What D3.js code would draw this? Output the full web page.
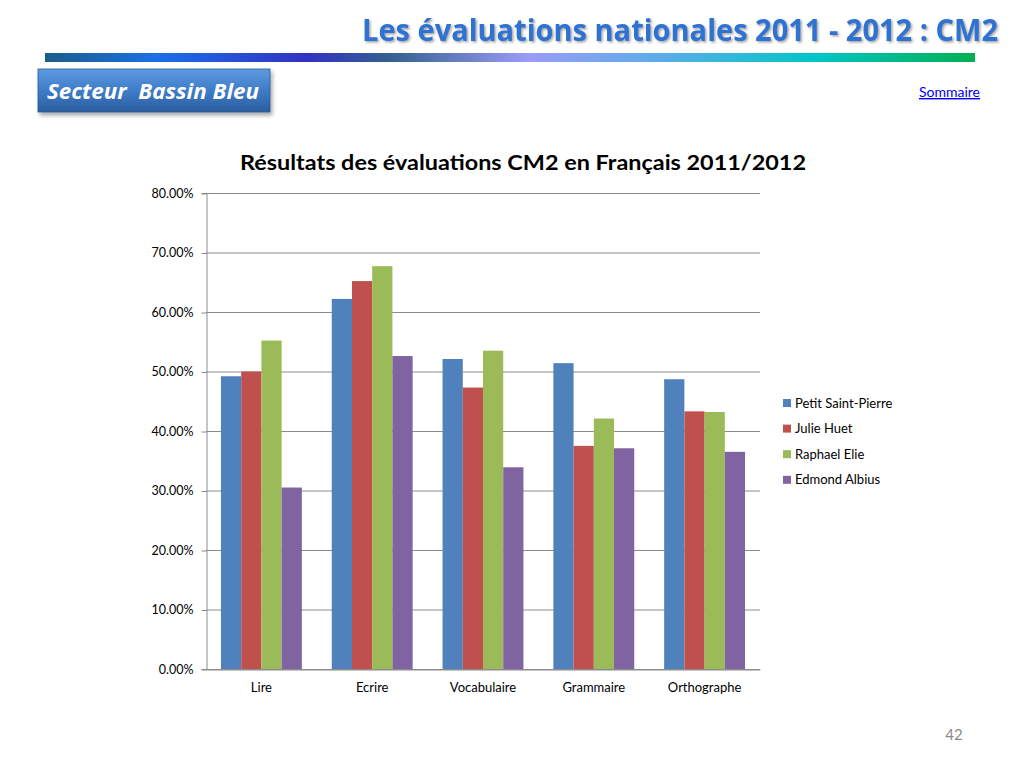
<!DOCTYPE html>
<html>
<head>
<meta charset="utf-8">
<script src="https://cdn.jsdelivr.net/npm/d3@7"></script>
<style>
  body { margin: 0; background: #fff; }
  svg { display: block; }
</style>
</head>
<body>
<div id="chart"></div>
<script>
// chart values
const categories = ["Lire", "Ecrire", "Vocabulaire", "Grammaire", "Orthographe"];
const seriesNames = ["Petit Saint-Pierre", "Julie Huet", "Raphael Elie", "Edmond Albius"];
const petitSaintPierre = [49.2, 62.2, 52.1, 51.4, 48.7];
const julieHuet = [50.0, 65.2, 47.3, 37.5, 43.3];
const raphaelElie = [55.2, 67.7, 53.5, 42.1, 43.2];
const edmondAlbius = [30.5, 52.6, 33.9, 37.1, 36.5];
const yTicks = [0, 10, 20, 30, 40, 50, 60, 70, 80];

const seriesValues = [petitSaintPierre, julieHuet, raphaelElie, edmondAlbius];
const colors = ["#4F81BD", "#C0504D", "#9BBB59", "#8064A2"];

const W = 1024, H = 768;
const font = "Lato, 'Open Sans', sans-serif";

const svg = d3.select("#chart").append("svg")
    .attr("width", W)
    .attr("height", H);

const defs = svg.append("defs");

// header gradient bar
const barGrad = defs.append("linearGradient").attr("id", "headerBar");
[
  [0, "#1b5e8a"], [0.12, "#1a6fe6"], [0.28, "#3232c4"], [0.37, "#34608e"],
  [0.52, "#9a9cfa"], [0.66, "#5cacea"], [0.83, "#00c6c6"], [1, "#00b050"]
].forEach(([o, c]) => barGrad.append("stop").attr("offset", o).attr("stop-color", c));

const boxGrad = defs.append("linearGradient").attr("id", "boxGrad")
    .attr("x1", 0).attr("y1", 0).attr("x2", 0).attr("y2", 1);
boxGrad.append("stop").attr("offset", 0).attr("stop-color", "#5d9be0");
boxGrad.append("stop").attr("offset", 0.5).attr("stop-color", "#3f7cc8");
boxGrad.append("stop").attr("offset", 1).attr("stop-color", "#2b5d9e");

const shadow = defs.append("filter").attr("id", "shadow")
    .attr("x", "-10%").attr("y", "-10%").attr("width", "130%").attr("height", "150%");
shadow.append("feDropShadow").attr("dx", 2).attr("dy", 3).attr("stdDeviation", 2)
    .attr("flood-color", "#000").attr("flood-opacity", 0.35);

const textShadow = defs.append("filter").attr("id", "textShadow");
textShadow.append("feDropShadow").attr("dx", 1.5).attr("dy", 1.5).attr("stdDeviation", 0.8)
    .attr("flood-color", "#555").attr("flood-opacity", 0.55);

// slide header
svg.append("text")
    .attr("x", 998).attr("y", 41)
    .attr("text-anchor", "end")
    .attr("font-family", "'Liberation Sans Narrow', 'Open Sans', sans-serif")
    .attr("font-weight", "bold")
    .attr("font-size", 30)
    .attr("fill", "#2e72d2")
    .attr("filter", "url(#textShadow)")
    .attr("textLength", 636)
    .attr("lengthAdjust", "spacingAndGlyphs")
    .text("Les évaluations nationales 2011 - 2012  : CM2");

svg.append("rect")
    .attr("x", 45).attr("y", 53).attr("width", 930).attr("height", 9)
    .attr("fill", "url(#headerBar)");

svg.append("rect")
    .attr("x", 38).attr("y", 69).attr("width", 232).attr("height", 43)
    .attr("fill", "url(#boxGrad)")
    .attr("stroke", "#2a5a95").attr("stroke-width", 0.8)
    .attr("filter", "url(#shadow)");

svg.append("text")
    .attr("x", 47).attr("y", 99)
    .attr("font-family", "'Open Sans', sans-serif")
    .attr("font-style", "italic")
    .attr("font-weight", "bold")
    .attr("font-size", 21)
    .attr("fill", "#fff")
    .attr("textLength", 212)
    .attr("lengthAdjust", "spacingAndGlyphs")
    .attr("xml:space", "preserve")
    .text("Secteur  Bassin Bleu");

svg.append("text")
    .attr("x", 980).attr("y", 97)
    .attr("text-anchor", "end")
    .attr("font-family", font)
    .attr("font-size", 14)
    .attr("fill", "#0000ee")
    .attr("text-decoration", "underline")
    .text("Sommaire");

// chart
const plot = { left: 206, right: 760, top: 193, bottom: 669 };

svg.append("text")
    .attr("x", 523).attr("y", 170)
    .attr("text-anchor", "middle")
    .attr("font-family", font)
    .attr("font-weight", "bold")
    .attr("font-size", 20)
    .attr("fill", "#000")
    .attr("textLength", 566)
    .attr("lengthAdjust", "spacingAndGlyphs")
    .text("Résultats des évaluations CM2 en Français 2011/2012");

const x = d3.scaleBand()
    .domain(categories)
    .range([plot.left, plot.right])
    .paddingInner(0.27)
    .paddingOuter(0.135);

const xSub = d3.scaleBand()
    .domain(seriesNames)
    .range([0, x.bandwidth()]);

const y = d3.scaleLinear()
    .domain([0, 80])
    .range([plot.bottom, plot.top]);

// gridlines
svg.append("g")
    .selectAll("line")
    .data(yTicks)
    .join("line")
    .attr("x1", plot.left).attr("x2", plot.right)
    .attr("y1", d => y(d) + 0.5).attr("y2", d => y(d) + 0.5)
    .attr("stroke", "#8c8c8c").attr("stroke-width", 1);

// y axis
const yAxis = svg.append("g")
    .attr("transform", `translate(${plot.left + 0.5},0)`)
    .call(d3.axisLeft(y).tickValues(yTicks).tickSize(5).tickPadding(8)
        .tickFormat(d => d3.format(".2f")(d) + "%"));
yAxis.select(".domain").attr("stroke", "#8c8c8c");
yAxis.selectAll(".tick line").attr("stroke", "#8c8c8c").attr("transform", "translate(0,0.5)");
yAxis.selectAll(".tick text")
    .attr("font-family", font).attr("font-size", 12.5).attr("fill", "#000");

// bars
const groups = svg.append("g")
    .selectAll("g")
    .data(categories)
    .join("g")
    .attr("transform", d => `translate(${x(d)},0)`);

groups.selectAll("rect")
    .data((c, i) => seriesNames.map((s, j) => ({ s, j, v: seriesValues[j][i] })))
    .join("rect")
    .attr("x", d => xSub(d.s))
    .attr("width", xSub.bandwidth())
    .attr("y", d => y(d.v))
    .attr("height", d => y(0) - y(d.v))
    .attr("fill", d => colors[d.j]);

// x axis
const xAxis = svg.append("g")
    .attr("transform", `translate(0,${plot.bottom + 0.5})`)
    .call(d3.axisBottom(x).tickSize(0).tickPadding(13));
xAxis.select(".domain").attr("stroke", "#8c8c8c");
xAxis.selectAll(".tick text")
    .attr("font-family", font).attr("font-size", 13).attr("fill", "#000");

// legend
const legend = svg.append("g")
    .selectAll("g")
    .data(seriesNames)
    .join("g")
    .attr("transform", (d, i) => `translate(783,${403 + i * 25.6})`);

legend.append("rect")
    .attr("x", 0).attr("y", -4).attr("width", 8).attr("height", 8)
    .attr("fill", (d, i) => colors[i]);

legend.append("text")
    .attr("x", 12).attr("y", 4.5)
    .attr("font-family", font).attr("font-size", 13).attr("fill", "#000")
    .text(d => d);

// page number
svg.append("text")
    .attr("x", 954).attr("y", 740)
    .attr("text-anchor", "middle")
    .attr("font-family", font)
    .attr("font-size", 15)
    .attr("fill", "#8a8a8a")
    .text("42");
</script>
</body>
</html>
